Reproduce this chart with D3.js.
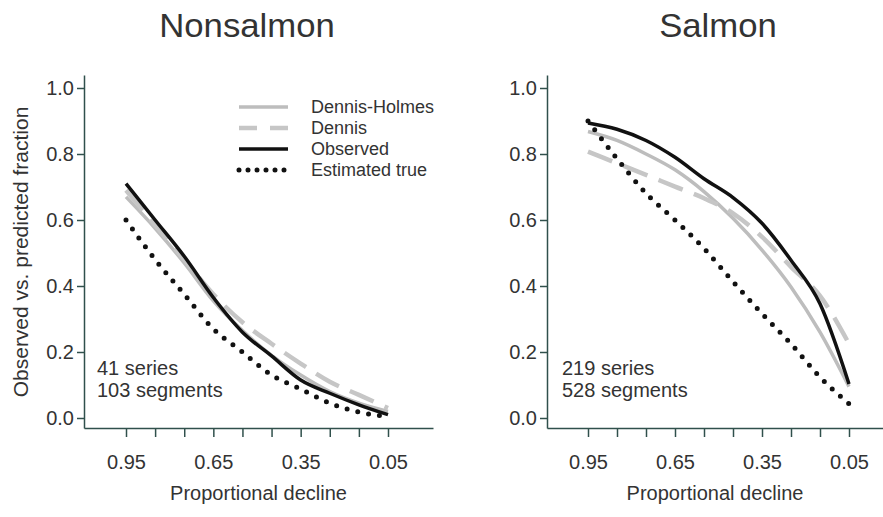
<!DOCTYPE html>
<html lang="en">
<head>
    <meta charset="UTF-8">
    <script src="https://d3js.org/d3.v7.min.js"></script>
    <style>
        body { margin: 0; background: #fff; }
        text { font-family: "Liberation Sans", Arial, sans-serif; fill: #333; }
    </style>
</head>
<body>
    <svg id="chart" width="883" height="517"></svg>
    <script>
        // proportional decline (x) at which each fraction was read
        const declines = [0.95, 0.85, 0.75, 0.65, 0.55, 0.45, 0.35, 0.25, 0.15, 0.05];
        const labelledDeclines = [0.95, 0.65, 0.35, 0.05];
        const yTicks = [0, 0.2, 0.4, 0.6, 0.8, 1.0];

        const seriesNames = ["Dennis-Holmes", "Dennis", "Observed", "Estimated true"];

        const nonsalmonDennisHolmes = [0.67, 0.575, 0.47, 0.355, 0.265, 0.19, 0.13, 0.08, 0.045, 0.02];
        const nonsalmonDennis       = [0.69, 0.585, 0.48, 0.375, 0.29, 0.225, 0.165, 0.11, 0.07, 0.03];
        const nonsalmonObserved     = [0.71, 0.60, 0.49, 0.365, 0.26, 0.188, 0.115, 0.075, 0.04, 0.01];
        const nonsalmonEstimated    = [0.60, 0.48, 0.375, 0.27, 0.20, 0.13, 0.088, 0.045, 0.018, 0.004];

        const salmonDennisHolmes = [0.868, 0.841, 0.80, 0.752, 0.686, 0.605, 0.509, 0.397, 0.26, 0.095];
        const salmonDennis       = [0.807, 0.772, 0.737, 0.701, 0.666, 0.62, 0.549, 0.458, 0.37, 0.225];
        const salmonObserved     = [0.894, 0.875, 0.841, 0.79, 0.725, 0.668, 0.59, 0.478, 0.346, 0.103];
        const salmonEstimated    = [0.90, 0.786, 0.681, 0.60, 0.514, 0.413, 0.316, 0.225, 0.124, 0.043];

        const svg = d3.select("#chart");
        const axisColor = "#30504c";

        const styles = {
            "Dennis-Holmes":  { stroke: "#bdbdbd", width: 3.5, dash: null, cap: "butt" },
            "Dennis":         { stroke: "#c6c6c6", width: 4.5, dash: "26,12", cap: "butt" },
            "Observed":       { stroke: "#111", width: 3.5, dash: null, cap: "butt" },
            "Estimated true": { stroke: "#111", width: 5, dash: "0,11", cap: "round" }
        };
        const drawOrder = ["Dennis-Holmes", "Dennis", "Estimated true", "Observed"];

        // y: 0 sits at 418, 1 at 88; the box runs a bit past both ends
        const y = d3.scaleLinear().domain([-10 / 330, 343 / 330]).range([428, 75]);

        function drawPanel(p) {
            const g = svg.append("g");
            const x = d3.scaleLinear().domain(p.xDomain).range(p.xRange);

            g.append("g")
                .attr("transform", `translate(${p.xRange[0]},0)`)
                .call(d3.axisLeft(y).tickValues(yTicks).tickFormat(d3.format(".1f"))
                    .tickSize(7).tickSizeOuter(0).tickPadding(3))
                .call(a => a.selectAll("path, line").attr("stroke", axisColor).attr("stroke-width", 1.5))
                .call(a => a.selectAll("text").style("font-size", "20px").attr("fill", "#333"));

            g.append("g")
                .attr("transform", `translate(0,${y.range()[0]})`)
                .call(d3.axisBottom(x).tickValues(declines)
                    .tickFormat(d => labelledDeclines.includes(d) ? d3.format(".2f")(d) : "")
                    .tickSize(9).tickSizeOuter(0).tickPadding(18))
                .call(a => a.selectAll("path, line").attr("stroke", axisColor).attr("stroke-width", 1.5))
                .call(a => a.selectAll("text").style("font-size", "20px").attr("fill", "#333"));

            const line = d3.line()
                .x((d, i) => x(declines[i]))
                .y(d => y(d))
                .curve(d3.curveMonotoneX);

            drawOrder.forEach(name => {
                const s = styles[name];
                g.append("path")
                    .datum(p.series[name])
                    .attr("d", line)
                    .attr("fill", "none")
                    .attr("stroke", s.stroke)
                    .attr("stroke-width", s.width)
                    .attr("stroke-dasharray", s.dash)
                    .attr("stroke-linecap", s.cap);
            });

            g.append("text")
                .attr("transform", `translate(${p.titleX},37) scale(1.12,1.05)`)
                .attr("text-anchor", "middle")
                .style("font-size", "31px")
                .attr("fill", "#111")
                .text(p.title);

            g.append("text")
                .attr("x", (p.xRange[0] + p.xRange[1]) / 2)
                .attr("y", 500)
                .attr("text-anchor", "middle")
                .style("font-size", "20px")
                .text("Proportional decline");

            p.note.forEach((t, i) => {
                g.append("text")
                    .attr("x", p.noteX)
                    .attr("y", 375 + i * 22)
                    .style("font-size", "20px")
                    .text(t);
            });
        }

        drawPanel({
            title: "Nonsalmon",
            titleX: 247,
            xDomain: [0.95 + 42 / 291.1, 0.05 - 45 / 291.1],
            xRange: [84, 433],
            note: ["41 series", "103 segments"],
            noteX: 97,
            series: {
                "Dennis-Holmes": nonsalmonDennisHolmes,
                "Dennis": nonsalmonDennis,
                "Observed": nonsalmonObserved,
                "Estimated true": nonsalmonEstimated
            }
        });

        drawPanel({
            title: "Salmon",
            titleX: 718,
            xDomain: [0.95 + 41 / 290, 0.05 - 34 / 290],
            xRange: [547, 883],
            note: ["219 series", "528 segments"],
            noteX: 562,
            series: {
                "Dennis-Holmes": salmonDennisHolmes,
                "Dennis": salmonDennis,
                "Observed": salmonObserved,
                "Estimated true": salmonEstimated
            }
        });

        // y axis title, shared on the left
        svg.append("text")
            .attr("transform", "translate(28,252) rotate(-90)")
            .attr("text-anchor", "middle")
            .style("font-size", "21px")
            .text("Observed vs. predicted fraction");

        // legend inside the left panel
        const legend = svg.append("g");
        seriesNames.forEach((name, i) => {
            const s = styles[name];
            const ly = 107 + i * 21;
            legend.append("line")
                .attr("x1", 239).attr("x2", 288)
                .attr("y1", ly).attr("y2", ly)
                .attr("stroke", s.stroke)
                .attr("stroke-width", s.width)
                .attr("stroke-dasharray", name === "Dennis" ? "18,13" : (name === "Estimated true" ? "0,9" : null))
                .attr("stroke-linecap", s.cap);
            legend.append("text")
                .attr("x", 311)
                .attr("y", ly)
                .attr("dy", "0.35em")
                .style("font-size", "18px")
                .text(name);
        });
    </script>
</body>
</html>
